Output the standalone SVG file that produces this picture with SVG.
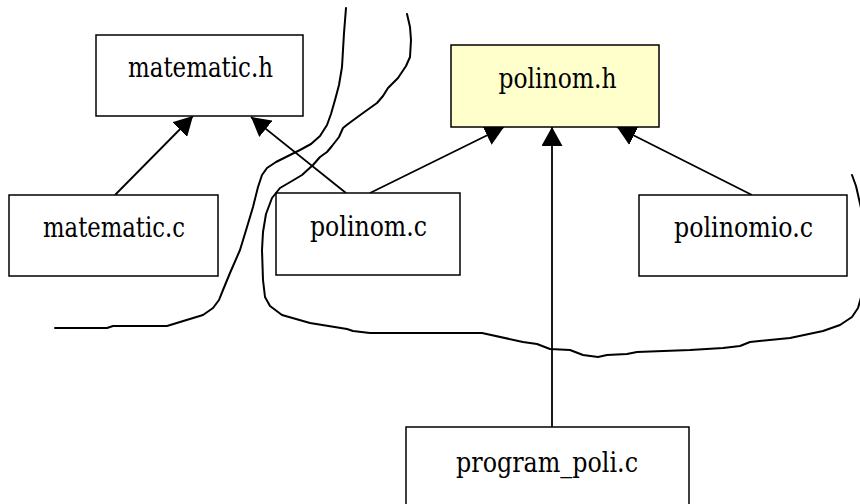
<svg xmlns="http://www.w3.org/2000/svg" width="860" height="504" viewBox="0 0 860 504">
<style>
.box{fill:#ffffff;stroke:#000;stroke-width:1.5}
.hl{fill:#ffffcc}
.lbl{font-family:"DejaVu Serif","Liberation Serif",serif;font-size:27.5px;fill:#000;text-anchor:middle}
.edge{stroke:#000;stroke-width:1.8;fill:none}
.hand{stroke:#000;stroke-width:2;fill:none;stroke-linejoin:round;stroke-linecap:round}
</style>
<defs>
<marker id="ah" markerUnits="userSpaceOnUse" viewBox="0 0 19 21" refX="19" refY="10.5" markerWidth="19" markerHeight="21" orient="auto">
<path d="M0,0 L19,10.5 L0,21 Z" fill="#000"/>
</marker>
</defs>
<rect x="0" y="0" width="860" height="504" fill="#fff"/>
<g id="connectors">
<line class="edge" x1="115" y1="195" x2="193" y2="116" marker-end="url(#ah)"/>
<line class="edge" x1="346" y1="193" x2="251" y2="117" marker-end="url(#ah)"/>
<line class="edge" x1="370" y1="193" x2="504" y2="127" marker-end="url(#ah)"/>
<line class="edge" x1="552" y1="427" x2="552" y2="127" marker-end="url(#ah)"/>
<line class="edge" x1="752" y1="195" x2="617" y2="127" marker-end="url(#ah)"/>
</g>
<g id="matematic_h"><rect class="box" x="96" y="35" width="207" height="81"/><text class="lbl" x="200.5" y="77" textLength="145" lengthAdjust="spacingAndGlyphs">matematic.h</text></g>
<g id="polinom_h"><rect class="box hl" x="451" y="45" width="208" height="82"/><text class="lbl" x="557.5" y="88" textLength="118" lengthAdjust="spacingAndGlyphs">polinom.h</text></g>
<g id="matematic_c"><rect class="box" x="9" y="195" width="209" height="81"/><text class="lbl" x="114" y="237" textLength="142" lengthAdjust="spacingAndGlyphs">matematic.c</text></g>
<g id="polinom_c"><rect class="box" x="276" y="193" width="184" height="82"/><text class="lbl" x="368.5" y="236" textLength="117" lengthAdjust="spacingAndGlyphs">polinom.c</text></g>
<g id="polinomio_c"><rect class="box" x="639" y="195" width="208" height="81"/><text class="lbl" x="743.5" y="237" textLength="139" lengthAdjust="spacingAndGlyphs">polinomio.c</text></g>
<g id="program_poli_c"><rect class="box" x="406" y="427" width="283" height="82"/><text class="lbl" x="547" y="472" textLength="182" lengthAdjust="spacingAndGlyphs">program_poli.c</text></g>
<g id="handdrawn">
<path class="hand" d="M346,8 L344,33 L342,67 L339,85 L335,100 L331,114 L327,125 L320,136 L311,144 L300,150 L288,156 L276,162 L267,168 L262,175 L258,187 L253,207 L247,227 L240,250 L230,273 L223,290 L219,300 L213,308 L203,315 L180,322 L167,326 L113,326 L107,328 L55,328"/>
<path class="hand" d="M407,14 L410,27 L411,40 L410,57 L406,66 L398,78 L388,88 L383,96 L377,103 L363,113 L348,124 L343,128 L339,137 L332,146 L327,152 L320,157 L313,165 L302,175 L292,181 L280,188 L272,198 L266,214 L263,232 L262,250 L263,280 L265,297 L270,306 L282,315 L310,323 L347,329 L353,331 L370,333 L482,333 L523,342 L537,344 L550,349 L570,350 L583,355 L598,357 L607,355 L627,354 L637,352 L690,350 L723,348 L740,346 L750,342 L790,338 L823,331 L840,325 L852,317 L858,308 L866,280 L866,240 L861,208 L856,186 L852,175"/>
</g>
</svg>
